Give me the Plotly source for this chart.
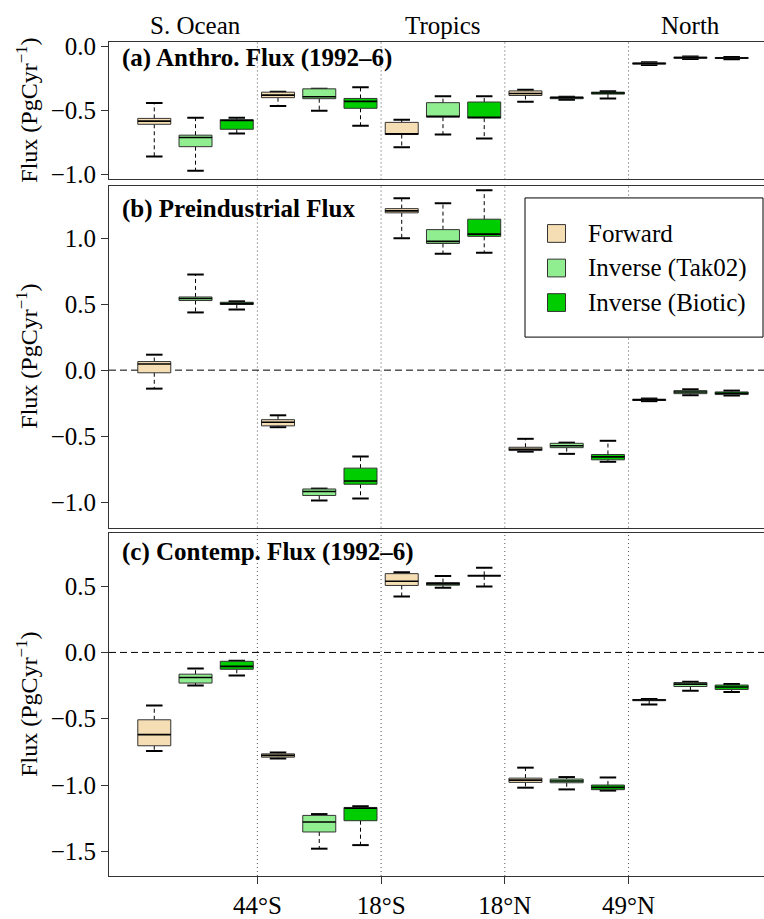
import plotly.graph_objects as go
from plotly.subplots import make_subplots

# ---- data ---------------------------------------------------------------
# latitude bands (five zones, split at these boundaries)
boundary_labels = ["44°S", "18°S", "18°N", "49°N"]
region_names = ["S. Ocean", "Tropics", "North"]
region_zone = [0, 2, 4]

methods = ["Forward", "Inverse (Tak02)", "Inverse (Biotic)"]
method_colors = ["#F5DEB3", "#90EE90", "#00CD00"]

# box statistics per zone: [lower whisker, Q1, median, Q3, upper whisker]
anthro_forward = [[-0.862, -0.610, -0.585, -0.564, -0.444],
                  [-0.467, -0.402, -0.382, -0.359, -0.355],
                  [-0.790, -0.690, -0.685, -0.595, -0.574],
                  [-0.433, -0.385, -0.369, -0.349, -0.341],
                  [-0.147, -0.140, -0.135, -0.130, -0.125]]
anthro_tak02 = [[-0.974, -0.785, -0.713, -0.695, -0.559],
                [-0.505, -0.410, -0.395, -0.333, -0.333],
                [-0.690, -0.554, -0.548, -0.441, -0.390],
                [-0.418, -0.410, -0.402, -0.397, -0.395],
                [-0.100, -0.094, -0.090, -0.084, -0.080]]
anthro_biotic = [[-0.682, -0.649, -0.580, -0.574, -0.559],
                 [-0.621, -0.485, -0.431, -0.408, -0.321],
                 [-0.721, -0.562, -0.555, -0.436, -0.390],
                 [-0.408, -0.374, -0.366, -0.359, -0.351],
                 [-0.102, -0.096, -0.092, -0.088, -0.085]]

preind_forward = [[-0.140, -0.020, 0.047, 0.065, 0.117],
                  [-0.432, -0.422, -0.395, -0.375, -0.342],
                  [0.999, 1.191, 1.206, 1.223, 1.301],
                  [-0.617, -0.609, -0.599, -0.584, -0.520],
                  [-0.235, -0.230, -0.225, -0.220, -0.215]]
preind_tak02 = [[0.437, 0.527, 0.542, 0.554, 0.724],
                [-0.987, -0.949, -0.919, -0.900, -0.897],
                [0.881, 0.959, 0.975, 1.064, 1.263],
                [-0.634, -0.587, -0.572, -0.554, -0.549],
                [-0.190, -0.178, -0.165, -0.155, -0.145]]
preind_biotic = [[0.459, 0.497, 0.504, 0.514, 0.521],
                 [-0.972, -0.864, -0.839, -0.742, -0.654],
                 [0.888, 1.013, 1.030, 1.143, 1.363],
                 [-0.694, -0.679, -0.657, -0.639, -0.535],
                 [-0.192, -0.185, -0.175, -0.165, -0.155]]

contemp_forward = [[-0.744, -0.704, -0.620, -0.508, -0.401],
                   [-0.800, -0.790, -0.776, -0.765, -0.755],
                   [0.422, 0.505, 0.537, 0.594, 0.604],
                   [-1.020, -0.980, -0.963, -0.948, -0.869],
                   [-0.393, -0.364, -0.359, -0.355, -0.352]]
contemp_tak02 = [[-0.249, -0.231, -0.189, -0.164, -0.122],
                 [-1.480, -1.354, -1.279, -1.229, -1.219],
                 [0.487, 0.507, 0.517, 0.527, 0.577],
                 [-1.033, -0.983, -0.970, -0.955, -0.940],
                 [-0.289, -0.257, -0.239, -0.227, -0.222]]
contemp_biotic = [[-0.174, -0.127, -0.105, -0.067, -0.062],
                  [-1.453, -1.269, -1.175, -1.169, -1.160],
                  [0.497, 0.577, 0.579, 0.581, 0.639],
                  [-1.042, -1.035, -1.018, -1.000, -0.943],
                  [-0.299, -0.279, -0.261, -0.246, -0.239]]

panel_titles = ["(a) Anthro. Flux (1992\u20136)",
                "(b) Preindustrial Flux",
                "(c) Contemp. Flux (1992\u20136)"]
panel_data = [[anthro_forward, anthro_tak02, anthro_biotic],
              [preind_forward, preind_tak02, preind_biotic],
              [contemp_forward, contemp_tak02, contemp_biotic]]
y_ticks = [[0.0, -0.5, -1.0],
           [1.0, 0.5, 0.0, -0.5, -1.0],
           [0.5, 0.0, -0.5, -1.0, -1.5]]

# ---- styling ------------------------------------------------------------
FONT = "Liberation Serif, Times New Roman, serif"
W, H = 764, 919
ML, MR, MT, MB = 109, 0, 42, 32
BOX_HALF = 0.4
CAP_HALF = 0.2
y_ranges = [[-1.041, 0.033], [-1.192, 1.396], [-1.686, 0.897]]
domains = [[0.8352, 1.0], [0.4178, 0.8276], [0.0, 0.4107]]
x_range = [-0.098, 15.784]

fig = make_subplots(rows=3, cols=1, shared_xaxes=False, vertical_spacing=0.01)


def fmt(v):
    s = f"{abs(v):.1f}"
    return ("\u2212" + s) if v < 0 else s


for row, series in enumerate(panel_data, start=1):
    for m, (stats, color) in enumerate(zip(series, method_colors)):
        bx, by, mx, my, wx, wy, cx, cy = [], [], [], [], [], [], [], []
        for zone, (lo, q1, med, q3, hi) in enumerate(stats):
            p = zone * 3 + m + 1
            bx += [p - BOX_HALF, p + BOX_HALF, p + BOX_HALF, p - BOX_HALF, p - BOX_HALF, None]
            by += [q1, q1, q3, q3, q1, None]
            mx += [p - BOX_HALF, p + BOX_HALF, None]
            my += [med, med, None]
            wx += [p, p, None, p, p, None]
            wy += [q3, hi, None, q1, lo, None]
            cx += [p - CAP_HALF, p + CAP_HALF, None, p - CAP_HALF, p + CAP_HALF, None]
            cy += [hi, hi, None, lo, lo, None]
        # dashed whiskers
        fig.add_trace(go.Scatter(x=wx, y=wy, mode="lines", showlegend=False,
                                 hoverinfo="skip",
                                 line=dict(color="black", width=1, dash="4px,3px")),
                      row=row, col=1)
        # whisker caps
        fig.add_trace(go.Scatter(x=cx, y=cy, mode="lines", showlegend=False,
                                 hoverinfo="skip",
                                 line=dict(color="black", width=2)),
                      row=row, col=1)
        # boxes
        fig.add_trace(go.Scatter(x=bx, y=by, mode="lines", fill="toself",
                                 fillcolor=color, name=methods[m], showlegend=False,
                                 line=dict(color="#333333", width=1)),
                      row=row, col=1)
        # medians
        fig.add_trace(go.Scatter(x=mx, y=my, mode="lines", showlegend=False,
                                 hoverinfo="skip",
                                 line=dict(color="black", width=1.6)),
                      row=row, col=1)

shapes = []
annotations = []
boundary_pos = [3.5, 6.5, 9.5, 12.5]

for i in range(3):
    ax = "" if i == 0 else str(i + 1)
    xa, ya = "xaxis" + ax, "yaxis" + ax
    last = i == 2
    fig.layout[xa].update(
        domain=[0, 1], range=x_range, showgrid=False, zeroline=False,
        showline=True, mirror=True, linecolor="#333333", linewidth=1,
        showticklabels=last, ticks="outside" if last else "", ticklen=7,
        tickcolor="#333333", tickfont=dict(family=FONT, size=25, color="black"),
    )
    if last:
        fig.layout[xa].update(tickvals=boundary_pos, ticktext=boundary_labels)
    fig.layout[ya].update(
        domain=domains[i], range=y_ranges[i], showgrid=False, zeroline=False,
        showline=True, mirror=False, linecolor="#333333", linewidth=1,
        tickvals=y_ticks[i], ticktext=[fmt(v) for v in y_ticks[i]],
        ticks="outside", ticklen=7, tickcolor="#333333",
        tickfont=dict(family=FONT, size=25, color="black"),
    )
    # latitude boundaries
    for b in boundary_pos:
        shapes.append(dict(type="line", xref="x" + ax, yref="y" + ax + " domain",
                           x0=b, x1=b, y0=0, y1=1, layer="below",
                           line=dict(color="#555555", width=1, dash="1px,3px")))
    # zero reference line
    if i > 0:
        shapes.append(dict(type="line", xref="x" + ax + " domain", yref="y" + ax,
                           x0=0, x1=1, y0=0, y1=0, layer="below",
                           line=dict(color="black", width=1, dash="7px,4px")))
    # panel title
    annotations.append(dict(text="<b>" + panel_titles[i] + "</b>",
                            xref="x" + ax + " domain", yref="y" + ax + " domain",
                            x=0.017, y=[0.883, 0.931, 0.947][i],
                            xanchor="left", yanchor="middle", showarrow=False,
                            font=dict(family=FONT, size=25, color="black")))
    # y-axis label
    annotations.append(dict(text="Flux (PgCyr<sup>\u22121</sup>)",
                            xref="paper", yref="y" + ax + " domain",
                            x=(27 - ML) / (W - ML - MR), y=0.5, textangle=-90,
                            xanchor="center", yanchor="middle", showarrow=False,
                            font=dict(family=FONT, size=24, color="black")))

# region names along the top
for name, z in zip(region_names, region_zone):
    annotations.append(dict(text=name, xref="x", yref="paper",
                            x=z * 3 + 2, y=(H - MB - 25) / (H - MT - MB),
                            xanchor="center", yanchor="middle", showarrow=False,
                            font=dict(family=FONT, size=25, color="black")))

# legend drawn inside panel (b)
PW, PH = W - ML - MR, H - MT - MB


def px_x(v):
    return (v - ML) / PW


def px_y(v):
    return (H - MB - v) / PH


shapes.append(dict(type="rect", xref="paper", yref="paper",
                   x0=px_x(525), x1=px_x(763), y0=px_y(341), y1=px_y(200),
                   fillcolor="white", line=dict(color="black", width=1)))
for k, (name, color) in enumerate(zip(methods, method_colors)):
    yc = 236 + 35 * k
    shapes.append(dict(type="rect", xref="paper", yref="paper",
                       x0=px_x(547.5), x1=px_x(565.5), y0=px_y(yc + 9), y1=px_y(yc - 9),
                       fillcolor=color, line=dict(color="#333333", width=1)))
    annotations.append(dict(text=name, xref="paper", yref="paper",
                            x=px_x(586), y=px_y(yc), xanchor="left", yanchor="middle",
                            showarrow=False,
                            font=dict(family=FONT, size=25, color="black")))

fig.update_layout(
    width=W, height=H,
    margin=dict(l=ML, r=MR, t=MT, b=MB),
    paper_bgcolor="white", plot_bgcolor="white",
    shapes=shapes, annotations=annotations, showlegend=False,
    font=dict(family=FONT, color="black"),
)

fig.write_html("out.html")
